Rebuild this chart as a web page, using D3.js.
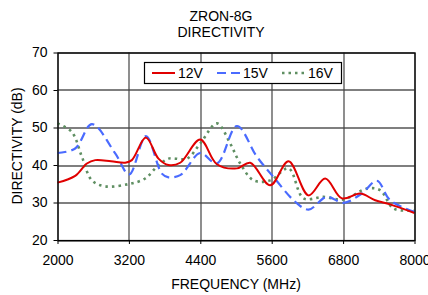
<!DOCTYPE html>
<html>
<head>
<meta charset="utf-8">
<script src="https://cdn.jsdelivr.net/npm/d3@7"></script>
<style>
  body { margin: 0; background: #fff; }
  svg { font-family: "Liberation Sans", Arial, sans-serif; }
</style>
</head>
<body>
<div id="chart"></div>
<script>
// data
var xTicks = [2000, 3200, 4400, 5600, 6800, 8000];
var yTicks = [20, 30, 40, 50, 60, 70];

var freq12 = [2000, 2297, 2494, 2634, 2900, 3138, 3250, 3486, 3697, 3866, 4062, 4398, 4679, 5015, 5239, 5575, 5883, 6219, 6499, 6780, 7087, 7339, 7591, 8000];
var dir12  = [35.3, 37.1, 40.4, 41.3, 41.0, 40.6, 41.3, 47.3, 41.7, 40.0, 40.6, 46.8, 40.2, 39.1, 40.6, 34.6, 41.0, 31.9, 36.4, 31.1, 32.4, 30.6, 29.5, 27.2];

var freq15 = [2000, 2297, 2578, 2970, 3205, 3486, 3754, 3866, 4062, 4146, 4398, 4679, 5015, 5351, 5630, 5995, 6219, 6528, 6807, 7115, 7368, 7591, 8000];
var dir15  = [43.2, 44.4, 50.9, 43.1, 37.5, 47.7, 37.7, 36.7, 37.3, 38.6, 43.2, 40.4, 50.4, 42.2, 36.8, 30.2, 28.1, 31.5, 29.9, 32.4, 35.8, 30.6, 27.5];

var freq16 = [2000, 2241, 2410, 2578, 2802, 3193, 3474, 3670, 3866, 4174, 4398, 4679, 4903, 5071, 5295, 5575, 5883, 6135, 6471, 6807, 7199, 7423, 7647, 8000];
var dir16  = [51.1, 48.8, 42.2, 35.9, 34.3, 34.9, 36.4, 39.5, 41.7, 41.7, 45.7, 51.1, 45.7, 40.4, 35.9, 35.9, 39.1, 31.1, 31.5, 30.8, 33.7, 33.3, 28.4, 27.9];

var seriesNames = ["12V", "15V", "16V"];

var margin = { top: 52.5, right: 14, bottom: 55, left: 57.5 };
var width = 428, height = 295;
var plotW = 414.5 - margin.left, plotH = 240 - margin.top;
var fs = 14;

var svg = d3.select("#chart").append("svg")
    .attr("width", width)
    .attr("height", height);

var g = svg.append("g")
    .attr("transform", "translate(" + margin.left + "," + margin.top + ")");

var x = d3.scaleLinear().domain([2000, 8000]).range([0, plotW]);
var y = d3.scaleLinear().domain([20, 70]).range([plotH, 0]);

// grid
g.selectAll(".hgrid").data(yTicks).enter().append("line")
    .attr("x1", 0).attr("x2", plotW)
    .attr("y1", function (d) { return Math.round(y(d)) + 0.5; })
    .attr("y2", function (d) { return Math.round(y(d)) + 0.5; })
    .attr("stroke", "#000").attr("stroke-width", 1.2);
g.selectAll(".vgrid").data(xTicks).enter().append("line")
    .attr("y1", 0).attr("y2", plotH)
    .attr("x1", function (d) { return Math.round(x(d)) + 0.5; })
    .attr("x2", function (d) { return Math.round(x(d)) + 0.5; })
    .attr("stroke", "#444").attr("stroke-width", 1.2);

// axes
var xAxis = d3.axisBottom(x).tickValues(xTicks).tickFormat(d3.format("d")).tickSize(4).tickPadding(11);
var yAxis = d3.axisLeft(y).tickValues(yTicks).tickFormat(d3.format("d")).tickSize(4).tickPadding(6);

g.append("g").attr("transform", "translate(0," + plotH + ")").call(xAxis)
    .call(function (s) { s.select(".domain").remove(); });
g.append("g").call(yAxis)
    .call(function (s) { s.select(".domain").remove(); });
g.selectAll(".tick line").attr("stroke", "#000");
g.selectAll(".tick text").attr("font-size", fs).attr("fill", "#000")
    .attr("font-family", "Liberation Sans, Arial, sans-serif");

var line = d3.line()
    .x(function (d) { return x(d[0]); })
    .y(function (d) { return y(d[1]); })
    .curve(d3.curveCatmullRom.alpha(0.5));

function pairs(a, b) { return a.map(function (v, i) { return [v, b[i]]; }); }

var styles = [
    { color: "#e00000", dash: null, w: 2 },
    { color: "#4a6bff", dash: "9,5", w: 2.2 },
    { color: "#5f8f62", dash: "2.5,4", w: 2.6 }
];
var data = [pairs(freq12, dir12), pairs(freq15, dir15), pairs(freq16, dir16)];

[2, 1, 0].forEach(function (i) {
    g.append("path").datum(data[i])
        .attr("d", line)
        .attr("fill", "none")
        .attr("stroke", styles[i].color)
        .attr("stroke-width", styles[i].w)
        .attr("stroke-dasharray", styles[i].dash);
});

// frame
g.append("rect").attr("x", 0.5).attr("y", 0.5)
    .attr("width", plotW).attr("height", plotH)
    .attr("fill", "none").attr("stroke", "#000").attr("stroke-width", 1.2);

// legend
var lg = svg.append("g");
lg.append("rect").attr("x", 144.5).attr("y", 62.5).attr("width", 197).attr("height", 21)
    .attr("fill", "#fff").attr("stroke", "#000").attr("stroke-width", 1.2);
var legX = [152, 217, 282];
seriesNames.forEach(function (n, i) {
    lg.append("line").attr("x1", legX[i]).attr("x2", legX[i] + 23)
        .attr("y1", 73).attr("y2", 73)
        .attr("stroke", styles[i].color).attr("stroke-width", styles[i].w)
        .attr("stroke-dasharray", styles[i].dash);
    lg.append("text").attr("x", legX[i] + 26).attr("y", 78)
        .attr("font-size", fs).text(n);
});

// titles
svg.append("text").attr("x", 221).attr("y", 21).attr("text-anchor", "middle")
    .attr("font-size", fs).text("ZRON-8G");
svg.append("text").attr("x", 221).attr("y", 37).attr("text-anchor", "middle")
    .attr("font-size", fs).text("DIRECTIVITY");
svg.append("text").attr("x", 236).attr("y", 289).attr("text-anchor", "middle")
    .attr("font-size", fs).text("FREQUENCY (MHz)");
svg.append("text").attr("transform", "translate(22,146) rotate(-90)")
    .attr("text-anchor", "middle").attr("font-size", fs).text("DIRECTIVITY (dB)");
</script>
</body>
</html>
